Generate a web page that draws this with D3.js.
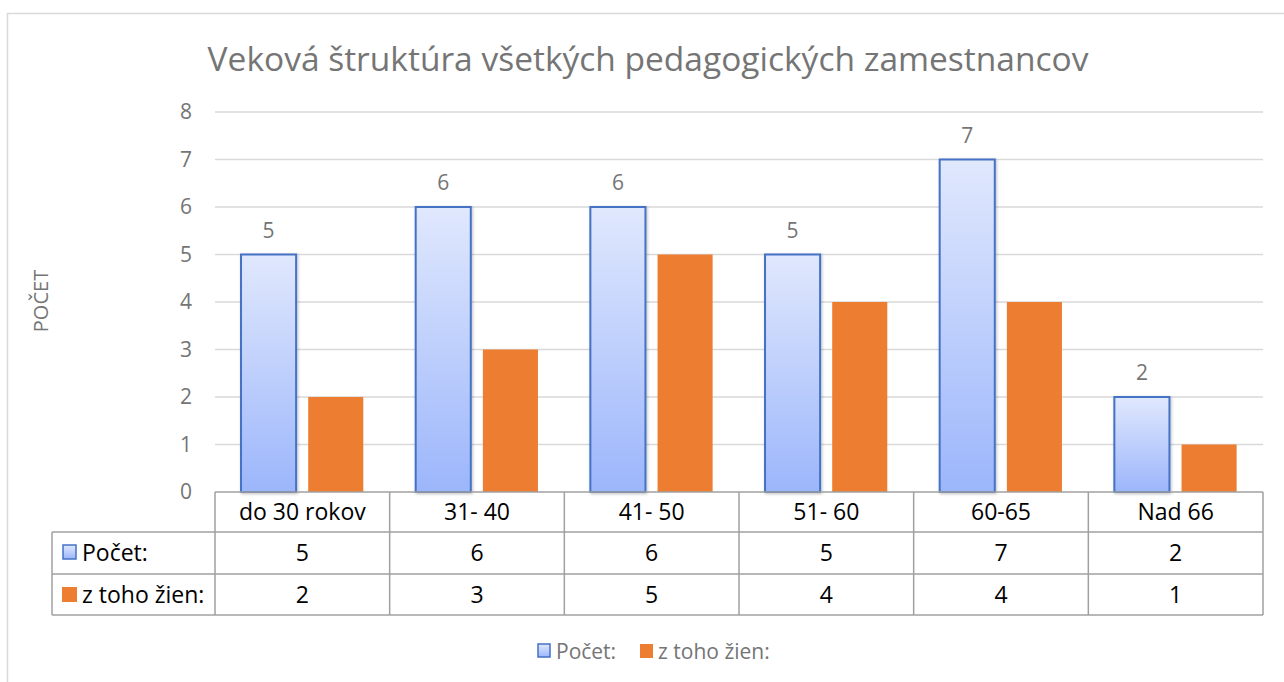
<!DOCTYPE html>
<html>
<head>
<meta charset="utf-8">
<script src="https://cdn.jsdelivr.net/npm/d3@7"></script>
<style>
  body { margin: 0; background: #fff; }
  svg { display: block; font-family: 'Open Sans', 'Noto Sans', sans-serif; }
</style>
</head>
<body>
<div id="container"></div>
<script>
const categories = ['do 30 rokov', '31- 40', '41- 50', '51- 60', '60-65', 'Nad 66'];
const seriesNames = ['Počet:', 'z toho žien:'];
const pocet = [5, 6, 6, 5, 7, 2];
const zien = [2, 3, 5, 4, 4, 1];
const yTicks = [0, 1, 2, 3, 4, 5, 6, 7, 8];

const dimensions = { x: 1284, y: 682 };
const plot = { left: 215, right: 1263, top: 112, bottom: 492 };
const rowH = [40, 42, 41];
const tableLeft = 52;
const blue = '#4472c4';
const orange = '#ed7d31';
const gray = '#757575';

const svg = d3
  .select('#container')
  .append('svg')
  .attr('width', dimensions.x)
  .attr('height', dimensions.y);

const defs = svg.append('defs');
const grad = defs
  .append('linearGradient')
  .attr('id', 'blueGrad')
  .attr('x1', 0).attr('y1', 0).attr('x2', 0).attr('y2', 1);
grad.append('stop').attr('offset', '0%').attr('stop-color', '#e0e8fd');
grad.append('stop').attr('offset', '100%').attr('stop-color', '#9cb6fb');

const shadow = defs.append('filter').attr('id', 'shadow')
  .attr('x', '-10%').attr('y', '-10%').attr('width', '130%').attr('height', '130%');
shadow.append('feDropShadow')
  .attr('dx', 1).attr('dy', 1).attr('stdDeviation', 1.5)
  .attr('flood-color', '#000').attr('flood-opacity', 0.25);

// outer chart border
svg.append('rect')
  .attr('x', 7.5).attr('y', 13.5)
  .attr('width', 1290).attr('height', 700)
  .attr('fill', 'none')
  .attr('stroke', '#d9d9d9')
  .attr('stroke-width', 1.5);

svg.append('text')
  .attr('x', 648).attr('y', 71)
  .attr('text-anchor', 'middle')
  .attr('fill', gray)
  .style('font-size', '33.5px')
  .text('Veková štruktúra všetkých pedagogických zamestnancov');

const y = d3.scaleLinear().domain([0, 8]).range([plot.bottom, plot.top]);
const x0 = d3.scaleBand().domain(categories).range([plot.left, plot.right]);
const bw = x0.bandwidth();
const x1 = d3.scaleBand()
  .domain(seriesNames)
  .range([bw * 0.149, bw * 0.849])
  .paddingInner(0.18);

// gridlines
svg.append('g')
  .selectAll('line')
  .data(yTicks.filter((d) => d > 0))
  .enter()
  .append('line')
  .attr('x1', plot.left).attr('x2', plot.right)
  .attr('y1', (d) => y(d)).attr('y2', (d) => y(d))
  .attr('stroke', '#d9d9d9')
  .attr('stroke-width', 1.5);

// y tick labels
svg.append('g')
  .selectAll('text')
  .data(yTicks)
  .enter()
  .append('text')
  .attr('x', 186)
  .attr('y', (d) => y(d) + 7)
  .attr('text-anchor', 'middle')
  .attr('fill', gray)
  .style('font-size', '21px')
  .text((d) => d);

svg.append('text')
  .attr('transform', 'translate(48, 301) rotate(-90)')
  .attr('text-anchor', 'middle')
  .attr('fill', gray)
  .style('font-size', '20px')
  .text('POČET');

const groups = svg.append('g')
  .selectAll('g')
  .data(categories)
  .enter()
  .append('g')
  .attr('transform', (d) => 'translate(' + x0(d) + ',0)');

groups.append('rect')
  .attr('x', (d) => x1(seriesNames[0]))
  .attr('y', (d, i) => y(pocet[i]))
  .attr('width', x1.bandwidth())
  .attr('height', (d, i) => plot.bottom - y(pocet[i]))
  .attr('fill', 'url(#blueGrad)')
  .attr('stroke', blue)
  .attr('stroke-width', 2)
  .attr('filter', 'url(#shadow)');

groups.append('rect')
  .attr('x', (d) => x1(seriesNames[1]))
  .attr('y', (d, i) => y(zien[i]))
  .attr('width', x1.bandwidth())
  .attr('height', (d, i) => plot.bottom - y(zien[i]))
  .attr('fill', orange);

groups.append('text')
  .attr('x', (d) => x1(seriesNames[0]) + x1.bandwidth() / 2)
  .attr('y', (d, i) => y(pocet[i]) - 17)
  .attr('text-anchor', 'middle')
  .attr('fill', gray)
  .style('font-size', '21px')
  .text((d, i) => pocet[i]);

// data table
const table = svg.append('g').attr('stroke', '#a0a0a0').attr('stroke-width', 1.5);
const r0 = plot.bottom, r1 = r0 + rowH[0], r2 = r1 + rowH[1], r3 = r2 + rowH[2];

table.append('line').attr('x1', plot.left).attr('x2', plot.right).attr('y1', r0).attr('y2', r0);
[r1, r2, r3].forEach((ry) => {
  table.append('line').attr('x1', tableLeft).attr('x2', plot.right).attr('y1', ry).attr('y2', ry);
});
x0.domain().concat(['end']).forEach((c, i) => {
  const cx = i < categories.length ? x0(c) : plot.right;
  table.append('line').attr('x1', cx).attr('x2', cx).attr('y1', r0).attr('y2', r3);
});
table.append('line').attr('x1', tableLeft).attr('x2', tableLeft).attr('y1', r1).attr('y2', r3);

const cellText = svg.append('g')
  .attr('text-anchor', 'middle')
  .attr('fill', '#000')
  .style('font-size', '23px');

categories.forEach((c, i) => {
  const cx = x0(c) + bw / 2;
  cellText.append('text').attr('x', cx).attr('y', r0 + 28).text(c);
  cellText.append('text').attr('x', cx).attr('y', r1 + 29).text(pocet[i]);
  cellText.append('text').attr('x', cx).attr('y', r2 + 29).text(zien[i]);
});

// row headers with legend keys
svg.append('rect')
  .attr('x', 63).attr('y', r1 + 13).attr('width', 13).attr('height', 14)
  .attr('fill', 'url(#blueGrad)').attr('stroke', blue).attr('stroke-width', 1.5);
svg.append('rect')
  .attr('x', 62).attr('y', r2 + 13).attr('width', 15).attr('height', 15)
  .attr('fill', orange);
svg.append('text').attr('x', 82).attr('y', r1 + 29)
  .style('font-size', '23px').attr('fill', '#000').text(seriesNames[0]);
svg.append('text').attr('x', 82).attr('y', r2 + 29)
  .style('font-size', '23px').attr('fill', '#000').text(seriesNames[1]);

// bottom legend
const legend = svg.append('g').attr('transform', 'translate(0, 651)');
legend.append('rect')
  .attr('x', 538).attr('y', -7).attr('width', 12).attr('height', 13)
  .attr('fill', 'url(#blueGrad)').attr('stroke', blue).attr('stroke-width', 1.5);
legend.append('text').attr('x', 556).attr('y', 8)
  .attr('fill', gray).style('font-size', '21px').text(seriesNames[0]);
legend.append('rect')
  .attr('x', 640).attr('y', -7).attr('width', 13).attr('height', 14)
  .attr('fill', orange);
legend.append('text').attr('x', 658).attr('y', 8)
  .attr('fill', gray).style('font-size', '21px').text(seriesNames[1]);
</script>
</body>
</html>
